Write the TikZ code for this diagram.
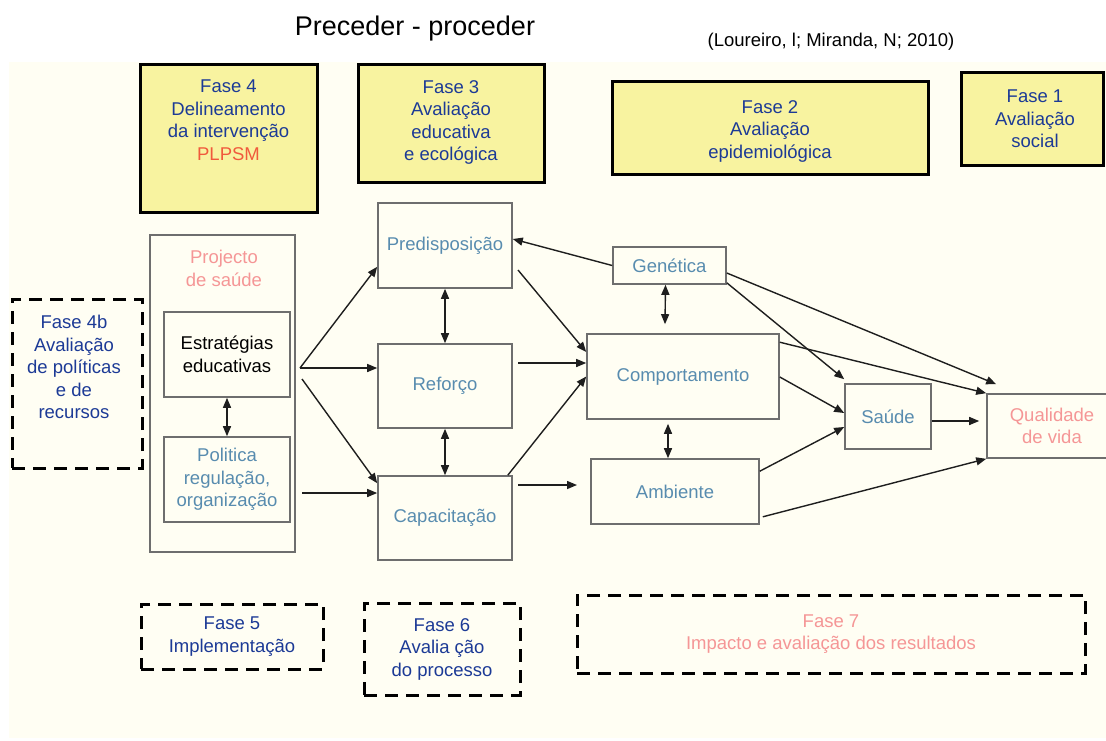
\documentclass[tikz,border=0pt]{standalone}
\usepackage{fontspec}
\setmainfont{Liberation Sans}
\usetikzlibrary{arrows.meta,calc}
\definecolor{bgcol}{RGB}{255,254,243}
\definecolor{ylw}{RGB}{248,243,160}
\definecolor{navy}{RGB}{28,58,150}
\definecolor{steel}{RGB}{88,140,175}
\definecolor{pinkish}{RGB}{245,150,150}
\definecolor{orangered}{RGB}{240,90,60}
\definecolor{boxgrey}{RGB}{110,110,110}
\definecolor{arrcol}{RGB}{30,30,30}
\begin{document}
\begin{tikzpicture}[x=1pt,y=-1pt,
  every node/.style={font=\fontsize{18.5}{22.5}\selectfont, align=center, inner sep=0pt},
  phase/.style={draw=black, line width=3pt, fill=ylw},
  dphase/.style={draw=black, line width=3pt, dash pattern=on 13pt off 8pt, text=navy},
  gbox/.style={draw=boxgrey, line width=1.6pt, text=steel},
  arr/.style={draw=arrcol, -{Triangle[length=10pt,width=8pt]}, line width=1.4pt},
  darr/.style={draw=arrcol, {Triangle[length=10pt,width=8pt]}-{Triangle[length=10pt,width=8pt]}, line width=1.4pt},
]
\useasboundingbox (0,0) rectangle (1106,740);
\clip (0,0) rectangle (1106,740);
\fill[bgcol] (9,62) rectangle (1106,738);

% titles
\node[anchor=base, font=\fontsize{27}{32}\selectfont] (title) at (415,35) {Preceder - proceder};
\node[anchor=base] (cite) at (831,46) {(Loureiro, l; Miranda, N; 2010)};

% phase boxes (top)
\node[phase, minimum width=177pt, minimum height=148pt] (f4) at (228.5,138) {};
\node[anchor=north, text=navy] (f4t) at (228.5,80) {Fase 4\\Delineamento\\da intervenção\\\textcolor{orangered}{PLPSM}};
\node[phase, minimum width=186pt, minimum height=118pt] (f3) at (451,123) {};
\node[anchor=north, text=navy] (f3t) at (451,80) {Fase 3\\Avaliação\\educativa\\e ecológica};
\node[phase, minimum width=316pt, minimum height=93pt] (f2) at (770,127.5) {};
\node[anchor=north, text=navy] (f2t) at (770,100) {Fase 2\\Avaliação\\epidemiológica};
\node[phase, minimum width=142pt, minimum height=93pt] (f1) at (1032,118.5) {};
\node[anchor=north, text=navy] (f1t) at (1035,90) {Fase 1\\Avaliação\\social};

% left dashed
\node[dphase, minimum width=130pt, minimum height=169pt] (f4b) at (77,383.5) {};
\node[anchor=north, text=navy] (f4bt) at (74,315) {Fase 4b\\Avaliação\\de políticas\\e de\\recursos};

% projecto
\node[gbox, minimum width=145pt, minimum height=317pt] (proj) at (222.5,393.5) {};
\node[anchor=north, text=pinkish] (projt) at (224,250) {Projecto\\de saúde};
\node[gbox, text=black, minimum width=126pt, minimum height=85pt] (estr) at (227,354.5) {Estratégias\\educativas};
\node[gbox, minimum width=126pt, minimum height=85pt] (pol) at (227,479.5) {Politica\\regulação,\\organização};

% middle
\node[gbox, minimum width=134pt, minimum height=85pt] (pred) at (445,245.5) {Predisposição};
\node[gbox, minimum width=134pt, minimum height=84pt] (ref) at (445,386) {Reforço};
\node[gbox, minimum width=134pt, minimum height=84pt] (cap) at (445,518) {Capacitação};
\node[gbox, minimum width=113pt, minimum height=37pt] (gen) at (669.5,265.5) {Genética};
\node[gbox, minimum width=192pt, minimum height=85pt] (comp) at (683,376.5) {Comportamento};
\node[gbox, minimum width=168pt, minimum height=65pt] (amb) at (675,491.5) {Ambiente};
\node[gbox, minimum width=86pt, minimum height=65pt] (sau) at (888,416.5) {Saúde};
\node[gbox, text=pinkish, minimum width=130pt, minimum height=64pt] (qual) at (1052,426) {Qualidade\\de vida};

% bottom dashed
\node[dphase, minimum width=182pt, minimum height=65pt] (f5) at (232,636.5) {Fase 5\\Implementação};
\node[dphase, minimum width=156pt, minimum height=92pt] (f6) at (442,649) {Fase 6\\Avalia ção\\do processo};
\node[dphase, text=pinkish, minimum width=508pt, minimum height=78pt] (f7) at (831,634) {Fase 7\\Impacto e avaliação dos resultados};

% inner double arrow
\draw[darr] (estr) -- (pol);

% connectors
\coordinate (fk1) at (300,368);
\coordinate (fk2) at (302,379);
\coordinate (pl) at (302,493);
\draw[arr] (fk1) -- ($(pred.south west)+(0,-22)$);
\draw[arr] (fk1) -- (ref.west |- fk1);
\draw[arr] (fk2) -- ($(cap.north west)+(0,8)$);
\draw[arr] (pl) -- (cap.west |- pl);
\draw[darr] (pred) -- (ref);
\draw[darr] (ref) -- (cap);
\draw[arr] (gen.west) -- ($(pred.east)+(0,-6.5)$);
\coordinate (p1) at (518,270);
\draw[arr] (p1) -- ($(comp.west)+(0,-24.5)$);
\coordinate (r1) at (518,363);
\draw[arr] (r1) -- (comp.west |- r1);
\draw[arr] ($(cap.north east)+(-5,0)$) -- (comp.west);
\coordinate (c1) at (518,485);
\coordinate (a1) at (577,485);
\draw[arr] (c1) -- (a1);
\draw[darr] ($(gen.south)+(-4,0)$) -- ($(comp.north)+(-18,-9)$);
\draw[darr] ($(comp.south)+(-15,4)$) -- ($(amb.north)+(-7,0)$);
\draw[arr] ($(gen.east)+(0,7.5)$) -- ($(qual.north west)+(10,-9)$);
\draw[arr] ($(gen.south east)+(0,-2)$) -- ($(sau.north west)+(0,-4)$);
\draw[arr] ($(comp.north east)+(0,9)$) -- (qual.north west);
\draw[arr] ($(comp.east)+(0,0.5)$) -- ($(sau.west)+(0,-3.5)$);
\draw[arr] ($(amb.north east)+(0,13)$) -- ($(sau.west)+(0,10.5)$);
\draw[arr] ($(sau.east)+(0,4.5)$) -- ($(qual.west)+(-7,-5)$);
\draw[arr] ($(amb.south east)+(3,-8)$) -- (qual.south west);
\end{tikzpicture}
\end{document}
